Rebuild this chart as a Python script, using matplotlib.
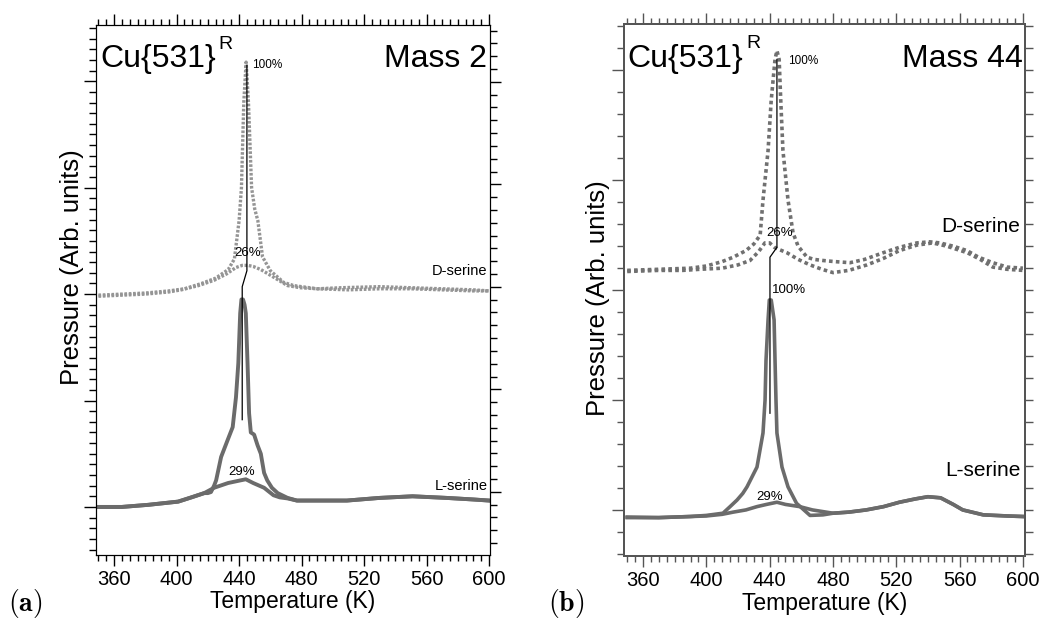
import matplotlib.pyplot as plt
from matplotlib.ticker import MultipleLocator

plt.rcParams['font.family'] = ['Liberation Sans', 'DejaVu Sans']
plt.rcParams['mathtext.fontset'] = 'cm'

# panel (a): mass 2, L-serine baseline at 0, D-serine offset to 2
a_d100_T = [350, 365, 380, 395, 405, 416, 425, 433, 437, 440, 441.5, 443, 444.5, 446, 448, 450, 452, 455, 460, 468.5, 475, 490, 510, 530, 550, 570, 590, 600]
a_d100_p = [1.99, 2.0, 2.01, 2.03, 2.05, 2.1, 2.15, 2.23, 2.33, 2.69, 3.0, 3.8, 4.18, 3.8, 3.0, 2.8, 2.69, 2.35, 2.22, 2.11, 2.08, 2.05, 2.04, 2.05, 2.05, 2.04, 2.03, 2.03]
a_d26_T = [350, 365, 380, 395, 403, 414, 424, 432, 438, 442, 445.6, 449, 454, 462, 471, 479, 490, 505, 530, 550, 570, 590, 600]
a_d26_p = [1.98, 1.99, 2.0, 2.02, 2.04, 2.08, 2.13, 2.19, 2.25, 2.27, 2.27, 2.26, 2.23, 2.16, 2.08, 2.06, 2.05, 2.06, 2.07, 2.06, 2.05, 2.04, 2.03]
a_l100_T = [350, 365, 382, 401, 409.5, 417.7, 420, 422, 424, 425.3, 428.5, 432.7, 435.9, 438, 439.5, 440.7, 441.5, 442.5, 443.5, 444.3, 445.4, 446.4, 447.5, 449.6, 451.8, 453.9, 456, 458, 461, 464.7, 471, 477, 490, 509, 530, 551, 572.6, 590, 600]
a_l100_p = [0.0, 0.0, 0.02, 0.05, 0.09, 0.13, 0.13, 0.14, 0.2, 0.25, 0.47, 0.63, 0.75, 1.03, 1.35, 1.82, 1.95, 1.95, 1.9, 1.82, 1.35, 0.88, 0.70, 0.68, 0.58, 0.5, 0.32, 0.25, 0.18, 0.13, 0.085, 0.06, 0.06, 0.06, 0.085, 0.1, 0.085, 0.07, 0.06]
a_l29_T = [350, 365, 382, 401, 409.5, 417.7, 424, 433, 441, 444.3, 449, 456, 462, 466, 471, 477, 490, 509, 530, 551, 572.6, 590, 600]
a_l29_p = [0.0, 0.0, 0.02, 0.05, 0.09, 0.13, 0.18, 0.225, 0.25, 0.26, 0.225, 0.18, 0.11, 0.09, 0.08, 0.06, 0.06, 0.06, 0.085, 0.1, 0.085, 0.07, 0.06]
a_guide_T = [445, 445, 442, 442]
a_guide_p = [4.15, 2.22, 2.07, 0.82]

# panel (b): mass 44
b_d100_T = [350, 370, 390, 400, 410, 417, 425, 430, 434, 435.8, 439, 441, 443.4, 444.6, 446, 447, 448.4, 451.6, 454.8, 458, 463.6, 468, 473.7, 481, 490.8, 500, 511.6, 522, 533, 541, 547.6, 556, 564.7, 572, 581, 590, 600]
b_d100_p = [2.18, 2.19, 2.2, 2.22, 2.26, 2.3, 2.36, 2.42, 2.5, 2.82, 3.27, 3.73, 4.1, 4.18, 4.1, 3.73, 3.27, 2.82, 2.52, 2.4, 2.3, 2.28, 2.27, 2.26, 2.25, 2.28, 2.34, 2.39, 2.43, 2.44, 2.43, 2.4, 2.36, 2.3, 2.25, 2.21, 2.2]
b_d26_T = [350, 370, 385, 396, 410, 420, 427.6, 433, 437, 440, 443, 446, 451, 458, 465.5, 473, 480, 490, 501.5, 512, 522, 533, 543, 552, 565, 573, 581, 590, 600]
b_d26_p = [2.17, 2.18, 2.18, 2.19, 2.2, 2.23, 2.27, 2.35, 2.43, 2.43, 2.39, 2.37, 2.34, 2.28, 2.23, 2.19, 2.16, 2.18, 2.23, 2.29, 2.36, 2.41, 2.43, 2.4, 2.34, 2.28, 2.21, 2.19, 2.18]
b_l100_T = [350, 370, 390, 400, 410.5, 415, 419.4, 423, 425.7, 432, 435.8, 437.1, 437.7, 439, 439.8, 441, 442.8, 443.4, 444, 444.6, 447.8, 451.6, 457, 465.5, 473.7, 480, 490, 501, 512, 522, 532, 540, 548, 556, 562, 575, 590, 600]
b_l100_p = [-0.07, -0.07, -0.06, -0.05, -0.03, 0.03, 0.09, 0.15, 0.21, 0.39, 0.7, 1.0, 1.36, 1.73, 1.91, 1.91, 1.73, 1.36, 1.0, 0.7, 0.39, 0.21, 0.06, -0.05, -0.045, -0.03, -0.02, 0.0, 0.03, 0.07, 0.1, 0.12, 0.11, 0.05, 0.0, -0.045, -0.055, -0.06]
b_l29_T = [350, 370, 390, 400, 410, 417, 425, 432, 438, 444.6, 450, 459, 467, 480, 490, 501, 512, 522, 532, 540, 548, 556, 562, 575, 590, 600]
b_l29_p = [-0.065, -0.07, -0.06, -0.055, -0.04, -0.02, 0.0, 0.03, 0.05, 0.07, 0.05, 0.03, 0.0, -0.03, -0.02, 0.0, 0.03, 0.07, 0.1, 0.12, 0.11, 0.05, 0.0, -0.045, -0.055, -0.06]
b_guide_T = [444.6, 444.6, 440.2, 440.2]
b_guide_p = [4.1, 2.39, 2.3, 0.88]

temp_ticks = [360, 400, 440, 480, 520, 560, 600]

solid_grey = '#6b6b6b'

fig = plt.figure(figsize=(10.43, 6.22), dpi=100)
ax_a = fig.add_axes([0.092, 0.108, 0.378, 0.852])
ax_b = fig.add_axes([0.598, 0.106, 0.385, 0.855])

# panel (a)
ax_a.plot(a_d100_T, a_d100_p, color='#959595', lw=2.4, ls=(0, (0.8, 0.5)))
ax_a.plot(a_d26_T, a_d26_p, color='#959595', lw=2.4, ls=(0, (0.8, 0.5)))
ax_a.plot(a_l100_T, a_l100_p, color=solid_grey, lw=2.8)
ax_a.plot(a_l29_T, a_l29_p, color=solid_grey, lw=2.8)
ax_a.plot(a_guide_T, a_guide_p, color='black', lw=0.9)
ax_a.set_xlim(348.4, 600.7)
ax_a.set_ylim(-0.45, 4.53)
ax_a.text(448.5, 4.15, '100%', fontsize=8.5, va='center')
ax_a.text(445.5, 2.39, '26%', fontsize=9.5, ha='center', va='center')
ax_a.text(441.5, 0.33, '29%', fontsize=9.5, ha='center', va='center')
ax_a.text(599, 2.22, 'D-serine', fontsize=10.5, ha='right', va='center')
ax_a.text(599, 0.2, 'L-serine', fontsize=10.5, ha='right', va='center')
ax_a.set_yticks(range(0, 5))
ax_a.yaxis.set_minor_locator(MultipleLocator(0.1))

# right-hand ticks of (a) run on their own spacing
ax_a2 = ax_a.twinx()
ax_a2.set_ylim(-0.615, 4.556)
ax_a2.set_yticks(range(0, 5))
ax_a2.yaxis.set_minor_locator(MultipleLocator(0.125))
ax_a2.tick_params(axis='y', which='both', direction='out', labelright=False)
ax_a2.tick_params(axis='y', which='major', length=8, width=1)
ax_a2.tick_params(axis='y', which='minor', length=5, width=1)

# panel (b)
ax_b.plot(b_d100_T, b_d100_p, color='#707070', lw=2.6, ls=(0, (1, 0.9)))
ax_b.plot(b_d26_T, b_d26_p, color='#707070', lw=2.6, ls=(0, (1, 0.9)))
ax_b.plot(b_l100_T, b_l100_p, color=solid_grey, lw=2.6)
ax_b.plot(b_l29_T, b_l29_p, color=solid_grey, lw=2.6)
ax_b.plot(b_guide_T, b_guide_p, color='black', lw=0.9)
ax_b.set_xlim(347.8, 601.5)
ax_b.set_ylim(-0.42, 4.42)
ax_b.text(451.6, 4.09, '100%', fontsize=8.5, va='center')
ax_b.text(446.5, 2.52, '26%', fontsize=9.5, ha='center', va='center')
ax_b.text(441.5, 2.0, '100%', fontsize=9.5, va='center')
ax_b.text(440.2, 0.12, '29%', fontsize=9.5, ha='center', va='center')
ax_b.text(598.5, 2.58, 'D-serine', fontsize=15, ha='right', va='center')
ax_b.text(598.5, 0.36, 'L-serine', fontsize=15, ha='right', va='center')
ax_b.set_yticks([0, 1, 2, 3, 4])
ax_b.yaxis.set_minor_locator(MultipleLocator(0.2))

ax_b2 = ax_b.twinx()
ax_b2.set_ylim(ax_b.get_ylim())
ax_b2.yaxis.set_major_locator(MultipleLocator(0.2))
ax_b2.tick_params(axis='y', which='major', direction='out', length=6, width=1,
                  color='#555555', labelright=False)

for ax, mass in [(ax_a, 'Mass 2'), (ax_b, 'Mass 44')]:
    ax.set_xticks(temp_ticks)
    ax.xaxis.set_minor_locator(MultipleLocator(5))
    ax.tick_params(axis='x', which='both', direction='out', top=True, labelsize=14.5, pad=3)
    ax.tick_params(axis='x', which='major', length=8, width=1)
    ax.tick_params(axis='x', which='minor', length=4, width=1)
    ax.tick_params(axis='y', which='both', direction='out', labelleft=False)
    ax.tick_params(axis='y', which='major', length=9, width=1)
    ax.tick_params(axis='y', which='minor', length=5, width=1)
    ax.set_xlabel('Temperature (K)', fontsize=16.5, labelpad=1)
    ax.set_ylabel('Pressure (Arb. units)', fontsize=18.5)
    cu = ax.text(0.01, 0.92, 'Cu{531}', transform=ax.transAxes, fontsize=23, va='baseline')
    ax.annotate('R', xy=(1.0, 0.72), xycoords=cu, xytext=(2, 0), textcoords='offset points',
                fontsize=14, va='bottom')
    ax.text(0.993, 0.92, mass, transform=ax.transAxes, fontsize=23, ha='right', va='baseline')

ax_a.yaxis.set_label_coords(-0.03, 0.542)
ax_b.yaxis.set_label_coords(-0.035, 0.485)

for a in (ax_b, ax_b2):
    for sp in a.spines.values():
        sp.set_color('#555555')
        sp.set_linewidth(1.4)
ax_b.tick_params(which='both', color='#555555')

fig.text(0.008, 0.03, r'$\mathbf{(a)}$', fontsize=20, va='center')
fig.text(0.525, 0.03, r'$\mathbf{(b)}$', fontsize=20, va='center')

plt.savefig('out.png', dpi=100)
